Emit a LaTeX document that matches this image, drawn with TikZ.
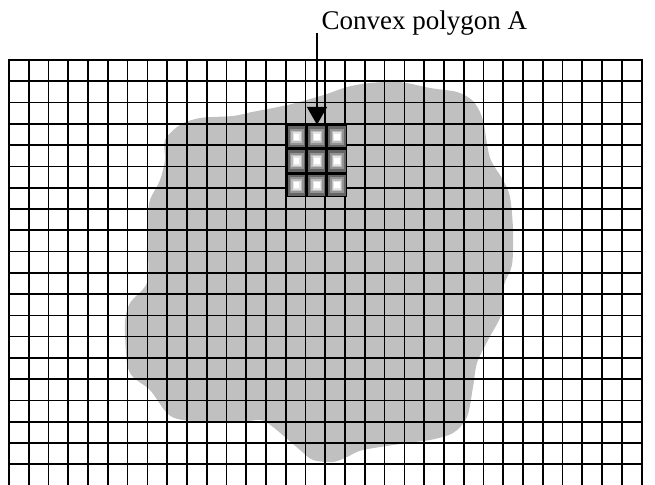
\documentclass[tikz,border=0pt]{standalone}
\usepackage{fontspec}
\setmainfont{Liberation Serif}
\usetikzlibrary{arrows.meta}
\definecolor{blobgray}{RGB}{192,192,192}
\begin{document}
\begin{tikzpicture}[x=1pt,y=-1pt,
  gridline/.style={line width=1.7pt,black,line cap=rect},
  blobfill/.style={fill=blobgray,draw=none},
  arrowline/.style={line width=1.8pt,-{Triangle[width=20pt,length=18pt]}},
  labeltext/.style={anchor=base west,inner sep=0,font=\fontsize{27}{31}\selectfont}]
\useasboundingbox (0,0) rectangle (655,484);
\fill[white] (0,0) rectangle (655,484);
% irregular region
\fill[blobfill] plot[smooth cycle,tension=0.5] coordinates {
 (165,140) (180,125) (200,118) (233,116) (252,112) (273,108) (292,104)
 (310,99) (327,94) (347,87) (370,83) (400,82) (430,88) (457,92) (472,100)
 (480,112) (484,125) (490,158) (503,180) (510,197) (513,230) (512,265)
 (504,285) (502,313) (488,340) (477,363) (473,387) (467,417) (453,433)
 (430,440) (407,443) (363,450) (347,457) (333,462) (313,460) (300,450)
 (273,427) (260,420) (233,423) (183,420) (167,413) (150,390) (133,377)
 (127,363) (125,323) (130,303) (147,283) (148,250) (148,217) (150,200)
 (160,180) (165,160)};
% grid
\foreach \k in {0,...,32}
  \draw[gridline] ({9+19.77*\k},60) -- ({9+19.77*\k},486);
\foreach \k in {0,...,19}
  \draw[gridline] (9,{60+21.28*\k}) -- (641.7,{60+21.28*\k});
% convex polygon A
\node[minimum width=60.6pt,minimum height=72.3pt,inner sep=0,fill=black] (A) at (317,161.15) {};
\begin{scope}[shift={(A.north west)}]
  \foreach \i in {0,1,2}{
    \foreach \j in {0,1,2}{
      \pgfmathsetmacro{\xa}{20.2*\i+1.5}
      \pgfmathsetmacro{\xb}{20.2*\i+20.2-1.5}
      \pgfmathsetmacro{\ya}{24.1*\j+1.5}
      \pgfmathsetmacro{\yb}{24.1*\j+24.1-1.5}
      \fill[black!60] (\xa,\ya) rectangle (\xb,\yb);
      \fill[black!42] (\xa+1.6,\ya+2.2) rectangle (\xb-1.6,\yb-2.2);
      \fill[black!26] (\xa+3.2,\ya+4.2) rectangle (\xb-3.2,\yb-4.2);
      \fill[black!10] (\xa+4.6,\ya+6) rectangle (\xb-4.6,\yb-6);
      \fill[white]    (\xa+5.8,\ya+7.6) rectangle (\xb-5.8,\yb-7.6);
    }
  }
\end{scope}
% label and arrow
\node[labeltext] (lbl) at (321.5,30) {Convex polygon A};
\coordinate (arrtop) at (317,33);
\draw[arrowline] (arrtop) -- (A.north);
\end{tikzpicture}
\end{document}
